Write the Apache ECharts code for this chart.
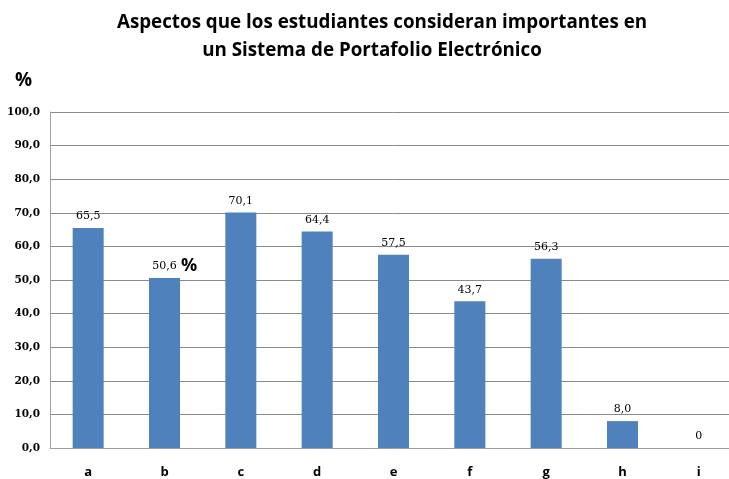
<!DOCTYPE html>
<html><head><meta charset="utf-8">
<script src="https://cdn.jsdelivr.net/npm/echarts@6/dist/echarts.min.js"></script>
<style>html,body{margin:0;padding:0;background:#fff;overflow:hidden}#c{width:740px;height:479px}</style>
</head><body><div id="c"></div>
<script>
var categories = ['a','b','c','d','e','f','g','h','i'];
var values = [65.5, 50.6, 70.1, 64.4, 57.5, 43.7, 56.3, 8.0, 0];
var titleLines = ['Aspectos que los estudiantes consideran importantes en', 'un Sistema de Portafolio Electrónico'];

var chart = echarts.init(document.getElementById('c'));
function fmt(v){ return v === 0 ? '0' : v.toFixed(1).replace('.', ','); }
var tStyle = {fontFamily: 'Open Sans', fontWeight: 'bold', fontSize: 18.8, color: '#000'};
chart.setOption({
  animation: false,
  backgroundColor: '#fff',
  title: [
    {text: titleLines[0], left: 377, top: 8, textAlign: 'center', textStyle: tStyle},
    {text: titleLines[1], left: 367, top: 36, textAlign: 'center', textStyle: tStyle}
  ],
  graphic: [
    {type: 'text', left: 15, top: 71, style: {text: '%', font: 'bold 19px "Open Sans"', fill: '#000'}},
    {type: 'text', left: 181, top: 257, style: {text: '%', font: 'bold 18px "Open Sans"', fill: '#000'}}
  ],
  grid: {left: 50, top: 112, width: 687, height: 336},
  xAxis: {
    type: 'category', data: categories,
    axisLine: {lineStyle: {color: '#a0a0a0'}},
    axisTick: {show: false},
    axisLabel: {margin: 18, fontFamily: 'Open Sans', fontWeight: 'bold', fontSize: 13, color: '#000'}
  },
  yAxis: {
    type: 'value', min: 0, max: 100, interval: 10,
    axisLine: {show: true, lineStyle: {color: '#a0a0a0'}},
    axisTick: {show: false},
    splitLine: {lineStyle: {color: '#8a8a8a'}},
    axisLabel: {margin: 10, fontFamily: 'DejaVu Serif', fontWeight: 'bold', fontSize: 10.5, color: '#000',
      formatter: function(v){ return v.toFixed(1).replace('.', ','); }}
  },
  series: [{
    type: 'bar', data: values, barWidth: 31,
    itemStyle: {color: '#4f81bd'},
    label: {show: true, position: 'top', distance: 6, fontFamily: 'DejaVu Serif', fontSize: 11, color: '#000',
      formatter: function(p){ return fmt(p.value); }}
  }]
});
</script></body></html>
